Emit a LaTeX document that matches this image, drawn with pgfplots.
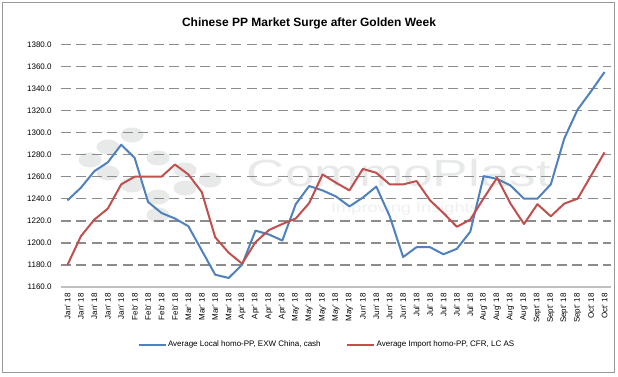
\documentclass[border=0pt]{standalone}
\usepackage{fontspec}
\setmainfont{Liberation Sans}
\usepackage{pgfplots}
\pgfplotsset{compat=1.18}
\definecolor{sblue}{HTML}{4F81BD}
\definecolor{sred}{HTML}{C0504D}
\definecolor{gridc}{HTML}{8C8C8C}
\definecolor{wm}{HTML}{E8EAEA}
\begin{document}
\begin{tikzpicture}[x=1pt,y=1pt]
\useasboundingbox (0,0) rectangle (618,376);
\fill[white] (0,0) rectangle (618,376);
\draw[color=black!40, line width=1.5pt] (2.5,3.5) rectangle (614.5,373.5);
% watermark logo
\foreach \px/\py in {90/216,108/229,132/241,108/203,158/218,185/206,210/196,158/179,158/161,185/188,132/191}
  \fill[wm] (\px,\py) ellipse (11.5 and 7.5);
\node[text=wm, font=\fontsize{38}{38}\selectfont, xscale=1.4, inner sep=0pt] at (399,203) {CommoPlast};
\node[text=wm!70, font=\fontsize{14}{14}\selectfont, xscale=1.3, inner sep=0pt] at (405,167) {Improving Insights};
\node[font=\bfseries\fontsize{12}{14}\selectfont] at (309,353) {Chinese PP Market Surge after Golden Week};
\begin{axis}[
  at={(45.3,81)}, anchor=south west,
  width=550.4pt, height=242.3pt, scale only axis,
  xmin=-0.5, xmax=40.5, ymin=1160, ymax=1380,
  axis x line*=bottom, axis y line*=left,
  x axis line style={draw=black!25, line width=1.5pt, -},
  y axis line style={draw=none},
  major tick length=0pt,
  ytick={1180,1200,...,1380},
  extra y ticks={1160}, extra y tick style={grid=none},
  ymajorgrids,
  grid style={draw=gridc, line width=1.6pt, dash pattern=on 10pt off 5.5pt},
  /pgf/number format/fixed, /pgf/number format/fixed zerofill,
  /pgf/number format/precision=1, /pgf/number format/1000 sep={},
  /pgf/number format/assume math mode=true,
  ticklabel style={font=\fontsize{8}{9}\selectfont},
  yticklabel style={anchor=east, inner sep=0pt},
  yticklabel shift=9pt,
  xtick={0,...,40},
  xticklabels={Jan' 18,Jan' 18,Jan' 18,Jan' 18,Jan' 18,Feb' 18,Feb' 18,Feb' 18,Feb' 18,Mar' 18,Mar' 18,Mar' 18,Mar' 18,Apr' 18,Apr' 18,Apr' 18,Apr' 18,May' 18,May' 18,May' 18,May' 18,May' 18,Jun' 18,Jun' 18,Jun' 18,Jun' 18,Jul' 18,Jul' 18,Jul' 18,Jul' 18,Jul' 18,Aug' 18,Aug' 18,Aug' 18,Aug' 18,Sept' 18,Sept' 18,Sept' 18,Sept' 18,Oct' 18,Oct' 18},
  xticklabel style={rotate=90, anchor=east, inner sep=0pt},
  xticklabel shift=6.5pt,
  legend columns=2,
  legend style={at={(0.139,-0.239)}, anchor=west, draw=none, inner sep=0pt,
    font=\fontsize{8}{9}\selectfont,
    /tikz/every even column/.append style={column sep=24pt},
    nodes={inner sep=1.5pt}},
  legend image code/.code={\draw[#1] (0pt,0pt) -- (27pt,0pt);},
]
\addplot[sblue, line width=2pt, line join=round] coordinates {
(0,1238.5) (1,1250) (2,1265) (3,1273) (4,1289) (5,1277) (6,1237) (7,1227) (8,1222) (9,1215)
(10,1193) (11,1171) (12,1168) (13,1180) (14,1211) (15,1207.5) (16,1202) (17,1235) (18,1251.5) (19,1247.5)
(20,1242) (21,1233) (22,1241) (23,1251) (24,1224) (25,1187) (26,1196) (27,1196) (28,1189.5) (29,1194.5)
(30,1210) (31,1260.5) (32,1258) (33,1252) (34,1240) (35,1240) (36,1253) (37,1294.5) (38,1321) (39,1337.5)
(40,1355)};
\addlegendentry{Average Local homo-PP, EXW China, cash}
\addplot[sred, line width=2pt, line join=round] coordinates {
(0,1180) (1,1206) (2,1221) (3,1231) (4,1253) (5,1260) (6,1260) (7,1260) (8,1271) (9,1262)
(10,1246) (11,1205) (12,1191) (13,1181) (14,1200.5) (15,1211.5) (16,1217) (17,1222) (18,1236) (19,1262)
(20,1254.5) (21,1247.5) (22,1267) (23,1263.5) (24,1253) (25,1253) (26,1256) (27,1238.5) (28,1227) (29,1214.5)
(30,1221) (31,1240.5) (32,1259) (33,1235.5) (34,1217) (35,1235) (36,1224) (37,1235.5) (38,1240) (39,1261)
(40,1282)};
\addlegendentry{Average Import homo-PP, CFR, LC AS}
\end{axis}
\end{tikzpicture}
\end{document}
